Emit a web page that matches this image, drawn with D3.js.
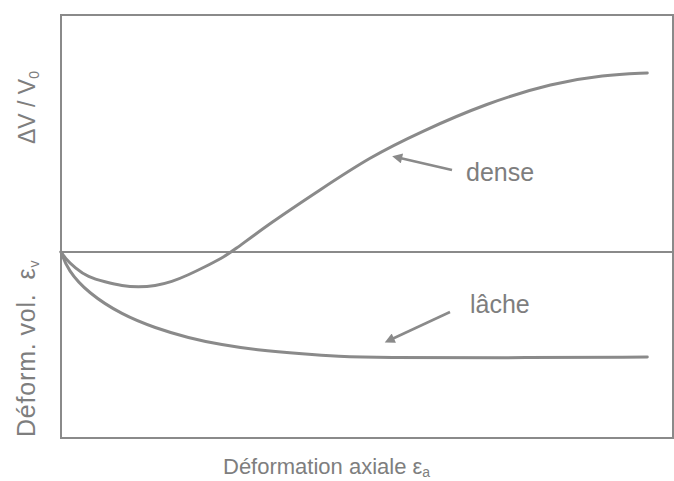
<!DOCTYPE html>
<html>
<head>
<meta charset="utf-8">
<script src="https://cdn.jsdelivr.net/npm/d3@7"></script>
<style>
  body { margin: 0; background: #fff; }
  text { font-family: "Liberation Sans", Arial, sans-serif; fill: #7e7e7e; }
</style>
</head>
<body>
<svg></svg>
<script>
// courbes (x : déformation axiale, y : déformation volumique)
var denseX = [0, 0.65, 2.3, 4.4, 7.2, 10.0, 12.6, 15.4, 18.1, 20.8, 23.5, 26.3, 27.9, 34.2, 42.3, 50.5, 58.7, 69.6, 80.4, 88.6, 95.8];
var denseY = [0, -0.029, -0.076, -0.119, -0.142, -0.161, -0.166, -0.161, -0.142, -0.109, -0.071, -0.029, 0, 0.137, 0.293, 0.449, 0.567, 0.704, 0.798, 0.836, 0.846];
var lacheX = [0, 1.1, 4.4, 10.0, 15.4, 20.8, 26.3, 31.7, 39.9, 45.1, 52.1, 71.7, 95.8];
var lacheY = [0, -0.086, -0.194, -0.298, -0.360, -0.407, -0.440, -0.463, -0.484, -0.494, -0.500, -0.501, -0.497];
var labels = ["dense", "lâche"];

var w = 674, h = 481,
	gris = "#8a8a8a",
	svg = d3.select("svg").attr("width", w).attr("height", h);

var x = d3.scaleLinear().domain([0, 100]).range([61, 673]);
var y = d3.scaleLinear().domain([-0.88, 1.12]).range([438, 15]);

// cadre
svg.append("rect")
	.attr("x", x(0)).attr("y", y(1.12))
	.attr("width", x(100) - x(0)).attr("height", y(-0.88) - y(1.12))
	.attr("fill", "none").attr("stroke", gris).attr("stroke-width", 2);

// ligne zéro
svg.append("line")
	.attr("x1", x(0)).attr("x2", x(100))
	.attr("y1", y(0)).attr("y2", y(0))
	.attr("stroke", gris).attr("stroke-width", 2);

var line = d3.line()
	.x(function(d){ return x(d[0]); })
	.y(function(d){ return y(d[1]); })
	.curve(d3.curveBasis);

[[denseX, denseY], [lacheX, lacheY]].forEach(function(s){
	svg.append("path")
		.datum(d3.zip(s[0], s[1]))
		.attr("d", line)
		.attr("fill", "none")
		.attr("stroke", gris)
		.attr("stroke-width", 3)
		.attr("stroke-linecap", "round");
});

// flèches
svg.append("defs").append("marker")
	.attr("id", "fleche")
	.attr("viewBox", "0 0 10 10")
	.attr("refX", 2).attr("refY", 5)
	.attr("markerWidth", 5).attr("markerHeight", 4)
	.attr("orient", "auto-start-reverse")
	.append("path").attr("d", "M0,0 L10,5 L0,10 z").attr("fill", gris);

function fleche(x1, y1, x2, y2){
	svg.append("line")
		.attr("x1", x1).attr("y1", y1).attr("x2", x2).attr("y2", y2)
		.attr("stroke", gris).attr("stroke-width", 2.5)
		.attr("marker-end", "url(#fleche)");
}
fleche(452, 170, 400, 158);
fleche(450, 312, 392, 339);

svg.append("text").attr("x", 466).attr("y", 181).style("font-size", "25px").text(labels[0]);
svg.append("text").attr("x", 470).attr("y", 313).style("font-size", "25px").text(labels[1]);

// titres des axes
var tx = svg.append("text").attr("x", 223).attr("y", 474).style("font-size", "22px");
tx.append("tspan").text("Déformation axiale ε");
tx.append("tspan").attr("dy", 3).style("font-size", "14px").text("a");

var ty1 = svg.append("text")
	.attr("transform", "translate(35,437) rotate(-90)")
	.style("font-size", "25px")
	.style("letter-spacing", "0.8px");
ty1.append("tspan").text("Déform.");
ty1.append("tspan").attr("dx", 7).text("vol.");
ty1.append("tspan").attr("dx", 14).text("ε");
ty1.append("tspan").attr("dy", 4).style("font-size", "14px").text("v");

var ty2 = svg.append("text")
	.attr("transform", "translate(35,144) rotate(-90)")
	.style("font-size", "23px");
ty2.append("tspan").text("ΔV / V");
ty2.append("tspan").attr("dy", 4).style("font-size", "14px").text("0");
</script>
</body>
</html>
